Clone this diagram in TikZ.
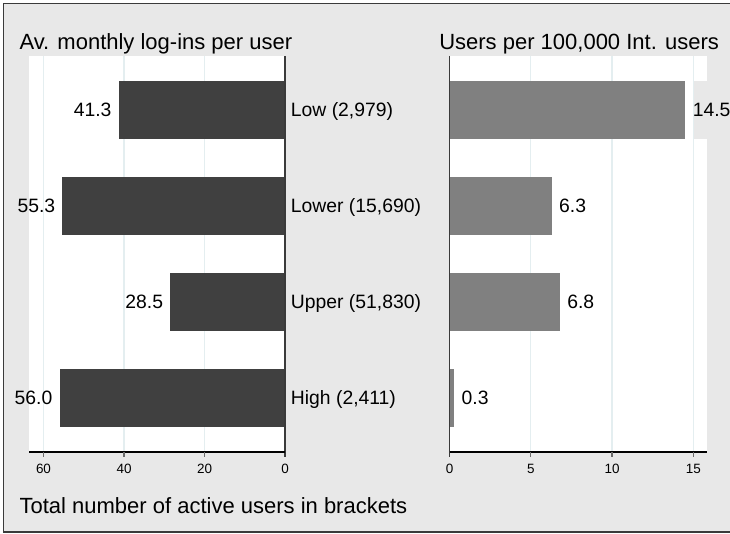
\documentclass[tikz,border=0pt]{standalone}
\usepackage{fontspec}
\setmainfont{Liberation Sans}
\definecolor{bggray}{HTML}{E8E8E8}
\definecolor{darkbar}{HTML}{404040}
\definecolor{lightbar}{HTML}{808080}
\definecolor{gridc}{HTML}{E4EEF0}
\definecolor{framec}{HTML}{3A3A3A}
\definecolor{tickc}{HTML}{6A6A6A}
\tikzset{
  titletext/.style={inner sep=0pt, anchor=base west, font=\fontsize{16.5}{19}\selectfont},
  cattext/.style={inner sep=0pt, anchor=base west, font=\fontsize{14.5}{17}\selectfont},
  valtext/.style={inner sep=0pt, font=\fontsize{14.5}{17}\selectfont},
  ticktext/.style={inner sep=0pt, anchor=base, font=\fontsize{10.1}{12}\selectfont},
  gridline/.style={gridc, line width=0.8pt},
  tickmark/.style={tickc, line width=0.8pt},
  axisline/.style={black, line width=0.9pt},
  zeroline/.style={framec, line width=0.9pt}
}
\begin{document}
\begin{tikzpicture}[x=0.75pt, y=-0.75pt]
\useasboundingbox (0,0) rectangle (730,534);
\clip (0,0) rectangle (730,534);
\fill[white] (0,0) rectangle (730,534);
% outer graph region
\draw[framec, fill=bggray, line width=0.9pt] (3.5,3.5) rectangle (745,532);

% plot regions
\fill[white] (29,56) rectangle (285,452);
\fill[white] (449.5,56) rectangle (707,452);

% grid lines (left: 4.025 px per unit from x=285; right: 16.25 px per unit from x=449.5)
\foreach \v in {20,40,60} {
  \draw[gridline] (285-4.025*\v,56) -- (285-4.025*\v,452);
}
\foreach \v in {5,10,15} {
  \draw[gridline] (449.5+16.25*\v,56) -- (449.5+16.25*\v,452);
}

% left bars: average monthly log-ins
\fill[darkbar] (285-4.025*41.3,81)  rectangle (285,139);
\fill[darkbar] (285-4.025*55.3,177) rectangle (285,235);
\fill[darkbar] (285-4.025*28.5,273) rectangle (285,331);
\fill[darkbar] (285-4.025*56.0,369) rectangle (285,427);

% right bars: users per 100,000 internet users
\fill[lightbar] (449.5,81)  rectangle (449.5+16.25*14.5,139);
\fill[lightbar] (449.5,177) rectangle (449.5+16.25*6.3,235);
\fill[lightbar] (449.5,273) rectangle (449.5+16.25*6.8,331);
\fill[lightbar] (449.5,369) rectangle (449.5+16.25*0.3,427);

% axes
\draw[zeroline] (285,56) -- (285,457);
\draw[zeroline] (449.5,56) -- (449.5,457);
\draw[axisline] (29,452) -- (285,452);
\draw[axisline] (449.5,452) -- (707,452);
\foreach \v in {20,40,60} {
  \draw[tickmark] (285-4.025*\v,452) -- (285-4.025*\v,457);
}
\foreach \v in {5,10,15} {
  \draw[tickmark] (449.5+16.25*\v,452) -- (449.5+16.25*\v,457);
}

% tick labels
\node[ticktext] (tl60) at (285-4.025*60,473) {60};
\node[ticktext] (tl40) at (285-4.025*40,473) {40};
\node[ticktext] (tl20) at (285-4.025*20,473) {20};
\node[ticktext] (tl0)  at (285,473) {0};
\node[ticktext] (tr0)  at (449.5,473) {0};
\node[ticktext] (tr5)  at (449.5+16.25*5,473) {5};
\node[ticktext] (tr10) at (449.5+16.25*10,473) {10};
\node[ticktext] (tr15) at (449.5+16.25*15,473) {15};

% value labels, left panel
\node[valtext, anchor=base east] (vlow)   at (285-4.025*41.3-7,116.7) {41.3};
\node[valtext, anchor=base east] (vlower) at (285-4.025*55.3-7,212.7) {55.3};
\node[valtext, anchor=base east] (vupper) at (285-4.025*28.5-7,308.7) {28.5};
\node[valtext, anchor=base east] (vhigh)  at (285-4.025*56.0-7,404.7) {56.0};

% value labels, right panel
\fill[bggray] (694,81) rectangle (730,139);
\node[valtext, anchor=base west] (ulow)   at (692.5,116.7) {14.5};
\node[valtext, anchor=base west] (ulower) at (449.5+16.25*6.3+7,212.7) {6.3};
\node[valtext, anchor=base west] (uupper) at (449.5+16.25*6.8+7,308.7) {6.8};
\node[valtext, anchor=base west] (uhigh)  at (449.5+16.25*0.3+7,404.7) {0.3};

% category labels
\node[cattext] (clow)   at (290.7,116.7) {Low (2,979)};
\node[cattext] (clower) at (290.7,212.7) {Lower (15,690)};
\node[cattext] (cupper) at (290.7,308.7) {Upper (51,830)};
\node[cattext] (chigh)  at (290.7,404.7) {High (2,411)};

% titles and note
\node[titletext] (tleft)  at (19.3,49.5) {Av. monthly log-ins per user};
\node[titletext] (tright) at (439,49.5) {Users per 100,000 Int. users};
\node[titletext] (note)   at (19.3,513) {Total number of active users in brackets};
\end{tikzpicture}
\end{document}
